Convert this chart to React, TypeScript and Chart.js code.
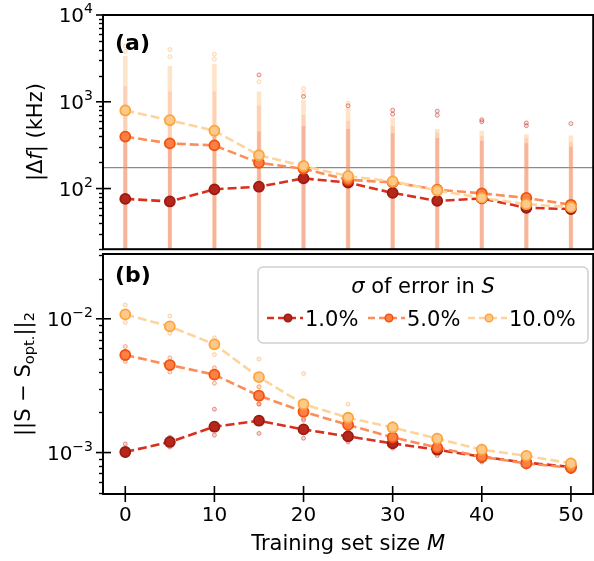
import React, { useEffect, useRef } from 'react';
import { Chart, registerables } from 'chart.js';

Chart.register(...registerables);

const FONT = '"DejaVu Sans", "Liberation Sans", sans-serif';

// ---------------- data ----------------
const M_VALUES = [0, 5, 10, 15, 20, 25, 30, 35, 40, 45, 50];
const SERIES_LABELS = ['1.0%', '5.0%', '10.0%'];
const X_TICKS = [0, 10, 20, 30, 40, 50];
const TOP_MAJOR_TICKS = [1e2, 1e3, 1e4];
const BOTTOM_MAJOR_TICKS = [1e-3, 1e-2];
const THRESHOLD_KHZ = 174;

// panel (a): |Δf| (kHz)
const DF_1 = [76, 71, 98, 105, 131, 117, 89, 72, 77, 60, 58];
const DF_5 = [397, 331, 314, 198, 169, 126, 118, 97, 88, 78, 65];
const DF_10 = [794, 613, 464, 242, 182, 139, 121, 95, 78, 66, 61];

// dense spread of individual runs (low / high end) in panel (a)
const DF_1_LO = [12, 12, 12, 13, 13, 13, 14, 14, 14, 15, 15];
const DF_1_HI = [350, 330, 400, 450, 520, 480, 430, 380, 350, 330, 300];
const DF_5_LO = [13, 13, 13, 14, 14, 14, 15, 15, 15, 16, 16];
const DF_5_HI = [1500, 1300, 1300, 900, 700, 600, 520, 440, 400, 380, 340];
const DF_10_LO = [14, 14, 14, 15, 15, 15, 16, 16, 16, 17, 17];
const DF_10_HI = [3350, 2560, 2700, 1300, 1040, 850, 650, 480, 460, 420, 405];

// sparse high outliers in panel (a)
const DF_OUT_PALE_X = [0, 0, 5, 5, 10, 10, 15, 20, 20, 25];
const DF_OUT_PALE_Y = [3800, 4380, 3300, 4000, 3100, 3540, 1700, 1420, 1250, 960];
const DF_OUT_RED_X = [15, 20, 25, 30, 30, 35, 35, 40, 40, 45, 45, 50];
const DF_OUT_RED_Y = [2040, 1150, 900, 800, 720, 780, 700, 620, 590, 570, 530, 560];

// panel (b): ||S - S_opt||_2
const S_1 = [0.00101, 0.0012, 0.00156, 0.00173, 0.00149, 0.00132, 0.00117, 0.00105, 0.00093, 0.00084, 0.00078];
const S_5 = [0.00536, 0.00451, 0.00382, 0.00266, 0.00202, 0.00161, 0.0013, 0.00109, 0.00093, 0.00083, 0.00077];
const S_10 = [0.01078, 0.00877, 0.00644, 0.00366, 0.0023, 0.00182, 0.00154, 0.00127, 0.00105, 0.000945, 0.00083];

const S_1_HI = [0.00116, 0.0013, 0.00211, 0.00231, 0.00175, 0.00145, 0.00125, 0.00112, 0.001, 0.0009, 0.00082];
const S_1_LO = [0.00095, 0.0011, 0.00135, 0.00139, 0.00128, 0.0012, 0.00108, 0.00095, 0.00085, 0.00078, 0.00072];
const S_5_HI = [0.0062, 0.0051, 0.0043, 0.0031, 0.0022, 0.0018, 0.0014, 0.00115, 0.00098, 0.00088, 0.0008];
const S_5_LO = [0.0048, 0.004, 0.0033, 0.0023, 0.0018, 0.0015, 0.0012, 0.001, 0.00088, 0.00078, 0.00072];
const S_10_HI = [0.0127, 0.0105, 0.0072, 0.005, 0.0039, 0.0023, 0.00165, 0.00135, 0.00112, 0.001, 0.00088];
const S_10_LO = [0.0094, 0.0078, 0.0054, 0.0031, 0.0021, 0.0017, 0.00145, 0.0012, 0.001, 0.0009, 0.0008];

// axis ranges
const X_MIN = -2.5;
const X_MAX = 52.5;
const A_MIN = 20;
const A_MAX = 1e4;
const B_MIN = 4.9e-4;
const B_MAX = 0.0305;

// ---------------- styles ----------------
const LINE_COLORS = ['#d7301f', '#fc8d59', '#fdd49e'];
const FACE_COLORS = ['#b5261c', '#fc7f45', '#fdc98a'];
const EDGE_COLORS = ['#9b1b10', '#f0530d', '#fca43c'];

type Part = { t: string; size: number; italic?: boolean; bold?: boolean; dy?: number };

function fontOf(p: Part) {
  return `${p.italic ? 'italic ' : ''}${p.bold ? 'bold ' : ''}${p.size}px ${FONT}`;
}

function drawRich(ctx: CanvasRenderingContext2D, parts: Part[], x: number, y: number, align: 'left' | 'center' | 'right') {
  const widths = parts.map((p) => {
    ctx.font = fontOf(p);
    return ctx.measureText(p.t).width;
  });
  const total = widths.reduce((a, b) => a + b, 0);
  let cx = align === 'left' ? x : align === 'center' ? x - total / 2 : x - total;
  ctx.textAlign = 'left';
  ctx.textBaseline = 'alphabetic';
  ctx.fillStyle = '#000';
  parts.forEach((p, i) => {
    ctx.font = fontOf(p);
    ctx.fillText(p.t, cx, y + (p.dy || 0));
    cx += widths[i];
  });
}

function drawRotated(ctx: CanvasRenderingContext2D, parts: Part[], cx: number, cy: number) {
  ctx.save();
  ctx.translate(cx, cy);
  ctx.rotate(-Math.PI / 2);
  drawRich(ctx, parts, 0, 7.5, 'center');
  ctx.restore();
}

function pts(xs: number[], ys: number[]) {
  return xs.map((x, i) => ({ x, y: ys[i] }));
}

function lineDs(k: number, vals: number[], order: number, radius = 5) {
  return {
    type: 'line' as const,
    label: SERIES_LABELS[k],
    data: pts(M_VALUES, vals),
    borderColor: LINE_COLORS[k],
    borderWidth: 2.6,
    borderDash: [9, 4],
    pointRadius: radius,
    pointBackgroundColor: FACE_COLORS[k],
    pointBorderColor: EDGE_COLORS[k],
    pointBorderWidth: 1.8,
    tension: 0,
    fill: false,
    order,
  };
}

function bandDs(lo: number[], hi: number[], color: string, thickness: number, order: number) {
  return {
    type: 'bar' as const,
    data: M_VALUES.map((x, i) => ({ x, y: [lo[i], hi[i]] })),
    backgroundColor: color,
    borderWidth: 0,
    barThickness: thickness,
    grouped: false,
    order,
  };
}

function dotDs(data: { x: number; y: number }[], face: string, edge: string, order: number) {
  return {
    type: 'line' as const,
    data,
    showLine: false,
    pointRadius: 2,
    pointBorderWidth: 1,
    pointBackgroundColor: face,
    pointBorderColor: edge,
    order,
  };
}

function drawYAxis(ctx: CanvasRenderingContext2D, chart: any, majors: number[]) {
  const a = chart.chartArea;
  const ys = chart.scales.y;
  const lo = Math.floor(Math.log10(ys.min));
  const hi = Math.ceil(Math.log10(ys.max));
  ctx.strokeStyle = '#000';
  ctx.lineWidth = 1.4;
  for (let e = lo; e <= hi; e++) {
    for (let m = 2; m <= 9; m++) {
      const v = m * Math.pow(10, e);
      if (v < ys.min * 0.999 || v > ys.max * 1.001) continue;
      const py = Math.round(ys.getPixelForValue(v)) + 0.5;
      ctx.beginPath();
      ctx.moveTo(a.left - 4, py);
      ctx.lineTo(a.left, py);
      ctx.stroke();
    }
  }
  ctx.lineWidth = 1.6;
  majors.forEach((v) => {
    const py = ys.getPixelForValue(v);
    ctx.beginPath();
    ctx.moveTo(a.left - 7, py);
    ctx.lineTo(a.left + 8, py);
    ctx.stroke();
    const e = Math.round(Math.log10(v));
    const sup = e < 0 ? '\u2212' + Math.abs(e) : String(e);
    drawRich(ctx, [{ t: '10', size: 20 }, { t: sup, size: 14, dy: -9 }], a.left - 10, py + 7, 'right');
  });
}

function drawFrame(ctx: CanvasRenderingContext2D, a: any) {
  ctx.strokeStyle = '#000';
  ctx.lineWidth = 2;
  ctx.strokeRect(a.left, a.top, a.right - a.left, a.bottom - a.top);
}

const topDecor = {
  id: 'topDecor',
  beforeDatasetsDraw(chart: any) {
    const { ctx, chartArea: a, scales } = chart;
    const y = scales.y.getPixelForValue(THRESHOLD_KHZ);
    ctx.save();
    ctx.strokeStyle = '#8a8a8a';
    ctx.lineWidth = 1.3;
    ctx.beginPath();
    ctx.moveTo(a.left, y);
    ctx.lineTo(a.right, y);
    ctx.stroke();
    ctx.restore();
  },
  afterDraw(chart: any) {
    const { ctx, chartArea: a } = chart;
    ctx.save();
    drawFrame(ctx, a);
    drawYAxis(ctx, chart, TOP_MAJOR_TICKS);
    drawRich(ctx, [{ t: '(a)', size: 22, bold: true }], 115, 50, 'left');
    drawRotated(
      ctx,
      [
        { t: '|\u0394', size: 21 },
        { t: 'f', size: 21, italic: true },
        { t: '| (kHz)', size: 21 },
      ],
      34,
      (a.top + a.bottom) / 2
    );
    ctx.restore();
  },
};

const bottomDecor = {
  id: 'bottomDecor',
  afterDraw(chart: any) {
    const { ctx, chartArea: a, scales } = chart;
    ctx.save();
    drawFrame(ctx, a);
    drawYAxis(ctx, chart, BOTTOM_MAJOR_TICKS);
    // x tick marks
    ctx.lineWidth = 1.6;
    X_TICKS.forEach((v) => {
      const px = scales.x.getPixelForValue(v);
      ctx.beginPath();
      ctx.moveTo(px, a.bottom - 8);
      ctx.lineTo(px, a.bottom + 8);
      ctx.stroke();
    });
    // x title
    drawRich(
      ctx,
      [
        { t: 'Training set size ', size: 21 },
        { t: 'M', size: 21, italic: true },
      ],
      (a.left + a.right) / 2,
      304,
      'center'
    );
    // y title
    drawRotated(
      ctx,
      [
        { t: '||S \u2212 S', size: 21 },
        { t: 'opt.', size: 14.7, dy: 4.5 },
        { t: '||', size: 21 },
        { t: '2', size: 14.7, dy: 4.5 },
      ],
      22,
      (a.top + a.bottom) / 2
    );
    drawRich(ctx, [{ t: '(b)', size: 22, bold: true }], 115, 36, 'left');

    // legend
    const bx = 258, by = 21, bw = 330, bh = 76;
    ctx.beginPath();
    (ctx as any).roundRect(bx, by, bw, bh, 5);
    ctx.fillStyle = 'rgba(255,255,255,0.85)';
    ctx.fill();
    ctx.strokeStyle = '#d0d0d0';
    ctx.lineWidth = 1.5;
    ctx.stroke();
    drawRich(
      ctx,
      [
        { t: '\u03c3', size: 21, italic: true },
        { t: ' of error in ', size: 21 },
        { t: 'S', size: 21, italic: true },
      ],
      423,
      46.5,
      'center'
    );
    const entries = [
      { x0: 267, x1: 303, mx: 288, tx: 305 },
      { x0: 368, x1: 405, mx: 389, tx: 407 },
      { x0: 468, x1: 507, mx: 489, tx: 509 },
    ];
    const ly = 72;
    entries.forEach((en, k) => {
      ctx.save();
      ctx.strokeStyle = LINE_COLORS[k];
      ctx.lineWidth = 2.6;
      ctx.setLineDash([7, 4]);
      ctx.beginPath();
      ctx.moveTo(en.x0, ly);
      ctx.lineTo(en.x1, ly);
      ctx.stroke();
      ctx.setLineDash([]);
      ctx.beginPath();
      ctx.arc(en.mx, ly, 3.8, 0, Math.PI * 2);
      ctx.fillStyle = FACE_COLORS[k];
      ctx.fill();
      ctx.strokeStyle = EDGE_COLORS[k];
      ctx.lineWidth = 1.5;
      ctx.stroke();
      ctx.restore();
      drawRich(ctx, [{ t: SERIES_LABELS[k], size: 21 }], en.tx, ly + 7.5, 'left');
    });
    ctx.restore();
  },
};

function baseOptions(yMin: number, yMax: number, showX: boolean, padding: any) {
  return {
    responsive: false,
    maintainAspectRatio: false,
    animation: false as const,
    devicePixelRatio: 1,
    layout: { padding },
    plugins: { legend: { display: false }, tooltip: { enabled: false } },
    scales: {
      x: {
        type: 'linear' as const,
        min: X_MIN,
        max: X_MAX,
        offset: false,
        display: showX,
        grid: { display: false, drawTicks: false },
        border: { display: false },
        ticks: {
          stepSize: 10,
          includeBounds: false,
          autoSkip: false,
          maxRotation: 0,
          padding: 10,
          color: '#000',
          font: { family: FONT, size: 20 },
          callback: (v: any) => (X_TICKS.includes(Number(v)) ? String(v) : ''),
        },
        afterFit: (s: any) => {
          s.height = showX ? 67 : 0;
        },
      },
      y: {
        type: 'logarithmic' as const,
        min: yMin,
        max: yMax,
        display: false,
      },
    },
  };
}

export default function App() {
  const topRef = useRef<HTMLCanvasElement>(null);
  const botRef = useRef<HTMLCanvasElement>(null);

  useEffect(() => {
    document.body.style.margin = '0';
    const top = new Chart(topRef.current as HTMLCanvasElement, {
      type: 'bar',
      data: {
        datasets: [
          lineDs(2, DF_10, 0),
          lineDs(1, DF_5, 1),
          lineDs(0, DF_1, 2),
          dotDs(pts(DF_OUT_RED_X, DF_OUT_RED_Y), 'rgba(215,48,31,0.12)', 'rgba(200,40,30,0.5)', 3),
          dotDs(pts(DF_OUT_PALE_X, DF_OUT_PALE_Y), 'rgba(253,212,158,0.25)', 'rgba(252,170,100,0.4)', 4),
          bandDs(DF_1_LO, DF_1_HI, 'rgba(215,48,31,0.18)', 3, 5),
          bandDs(DF_5_LO, DF_5_HI, 'rgba(250,130,90,0.2)', 3, 6),
          bandDs(DF_10_LO, DF_10_HI, 'rgba(253,190,130,0.42)', 4, 7),
        ] as any,
      },
      options: baseOptions(A_MIN, A_MAX, false, { left: 103, right: 3.7, top: 15, bottom: 2 }) as any,
      plugins: [topDecor],
    });

    const bottom = new Chart(botRef.current as HTMLCanvasElement, {
      type: 'bar',
      data: {
        datasets: [
          lineDs(2, S_10, 0),
          lineDs(1, S_5, 1),
          lineDs(0, S_1, 2),
          dotDs([...pts(M_VALUES, S_10_HI), ...pts(M_VALUES, S_10_LO)], 'rgba(253,212,158,0.35)', 'rgba(252,170,100,0.5)', 3),
          dotDs([...pts(M_VALUES, S_5_HI), ...pts(M_VALUES, S_5_LO)], 'rgba(252,141,89,0.25)', 'rgba(240,90,40,0.45)', 4),
          dotDs([...pts(M_VALUES, S_1_HI), ...pts(M_VALUES, S_1_LO)], 'rgba(215,48,31,0.2)', 'rgba(190,40,30,0.45)', 5),
        ] as any,
      },
      options: baseOptions(B_MIN, B_MAX, true, { left: 103, right: 3.7, top: 8, bottom: 0 }) as any,
      plugins: [bottomDecor],
    });

    return () => {
      top.destroy();
      bottom.destroy();
    };
  }, []);

  return (
    <div
      style={{
        position: 'fixed',
        left: 0,
        top: 0,
        width: 594,
        height: 561,
        overflow: 'hidden',
        background: '#fff',
      }}
    >
      <canvas
        ref={topRef}
        width={600}
        height={256}
        style={{ position: 'absolute', left: 0, top: 0, width: 600, height: 256 }}
      />
      <canvas
        ref={botRef}
        width={600}
        height={315}
        style={{ position: 'absolute', left: 0, top: 246, width: 600, height: 315 }}
      />
    </div>
  );
}
